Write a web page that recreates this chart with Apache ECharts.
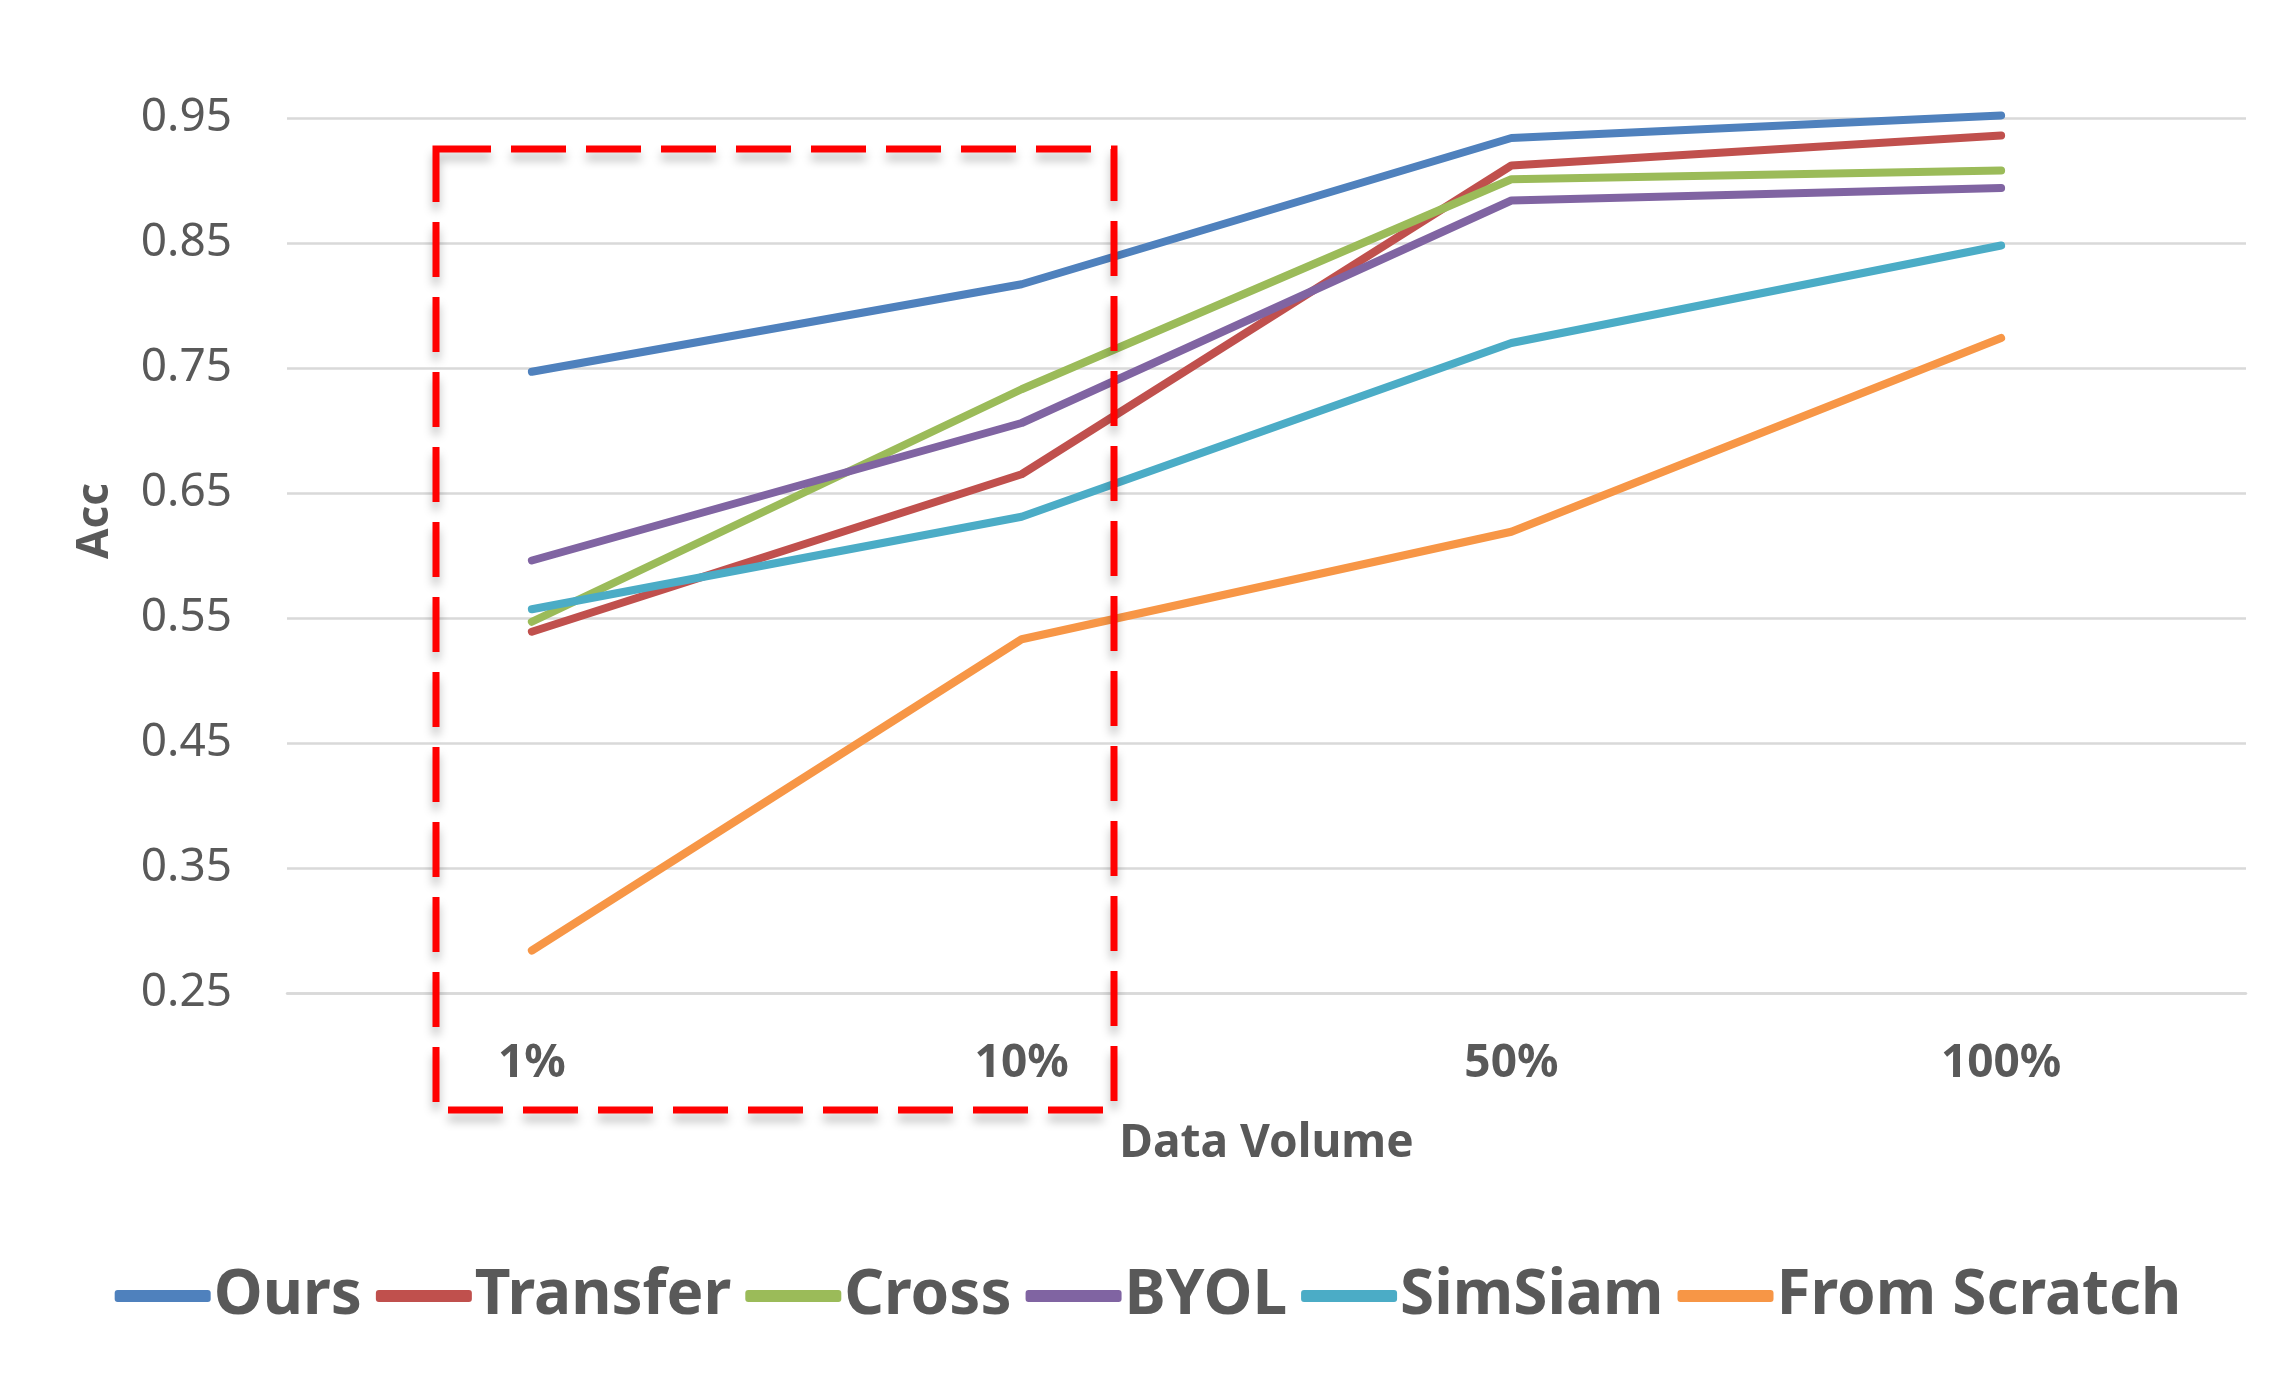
<!DOCTYPE html>
<html>
<head>
<meta charset="utf-8">
<script src="https://cdn.jsdelivr.net/npm/echarts@6/dist/echarts.min.js"></script>
<style>
html,body{margin:0;padding:0;background:#fff;}
#chart{width:2296px;height:1377px;}
</style>
</head>
<body>
<div id="chart"></div>
<script>
const categories = ['1%', '10%', '50%', '100%'];
const seriesNames = ['Ours', 'Transfer', 'Cross', 'BYOL', 'SimSiam', 'From Scratch'];
const ours        = [0.747, 0.817, 0.934, 0.952];
const transfer    = [0.539, 0.665, 0.912, 0.936];
const cross       = [0.547, 0.733, 0.901, 0.908];
const byol        = [0.596, 0.706, 0.884, 0.894];
const simsiam     = [0.557, 0.631, 0.770, 0.848];
const fromScratch = [0.284, 0.533, 0.619, 0.774];
const colors = ['#4F81BD', '#C0504D', '#9BBB59', '#8064A2', '#4BACC6', '#F79646'];
const yMin = 0.25, yMax = 0.95, yStep = 0.1;

const allData = [ours, transfer, cross, byol, simsiam, fromScratch];
const FONT = '"Noto Sans", "Open Sans", sans-serif';
const TXT = '#595959';

const chart = echarts.init(document.getElementById('chart'), null, {renderer: 'canvas'});
chart.setOption({
  animation: false,
  backgroundColor: '#ffffff',
  color: colors,
  grid: {left: 287, right: 50, top: 118, bottom: 384, containLabel: false},
  xAxis: {
    type: 'category',
    data: categories,
    boundaryGap: true,
    axisLine: {show: true, lineStyle: {color: '#D9D9D9', width: 2.5}},
    axisTick: {show: false},
    axisLabel: {color: TXT, fontFamily: FONT, fontWeight: 'bold', fontSize: 46, margin: 48},
    name: 'Data Volume',
    nameLocation: 'middle',
    nameGap: 128,
    nameTextStyle: {color: TXT, fontFamily: FONT, fontWeight: 'bold', fontSize: 46}
  },
  yAxis: {
    type: 'value',
    min: yMin, max: yMax, interval: yStep,
    axisLine: {show: false},
    axisTick: {show: false},
    splitLine: {show: true, lineStyle: {color: '#D9D9D9', width: 2.5}},
    axisLabel: {color: TXT, fontFamily: FONT, fontSize: 46, margin: 55,
      formatter: v => Number(v).toFixed(2)}
  },
  legend: {
    data: seriesNames,
    left: 'center',
    top: 1260,
    icon: 'roundRect',
    itemWidth: 96,
    itemHeight: 12,
    itemGap: 14,
    textStyle: {color: TXT, fontFamily: FONT, fontWeight: 'bold', fontSize: 62, padding: [0, 0, 0, -2]}
  },
  graphic: [
    {
      type: 'text',
      x: 95, y: 521,
      rotation: Math.PI / 2,
      style: {text: 'Acc', fill: TXT, font: 'bold 44px "Noto Sans", sans-serif', align: 'center', verticalAlign: 'middle'}
    },
    {
      type: 'rect',
      z: 100,
      shape: {x: 436, y: 149, width: 678, height: 961},
      style: {fill: 'transparent', stroke: '#FF0000', lineWidth: 7, lineDash: [55, 20],
        shadowColor: 'rgba(0,0,0,0.25)', shadowBlur: 10, shadowOffsetX: 0, shadowOffsetY: 8}
    }
  ],
  series: seriesNames.map((name, i) => ({
    name: name,
    type: 'line',
    data: allData[i],
    clip: false,
    symbol: 'none',
    showSymbol: false,
    lineStyle: {width: 8, color: colors[i], cap: 'round', join: 'round'},
    itemStyle: {color: colors[i]}
  }))
});
</script>
</body>
</html>
